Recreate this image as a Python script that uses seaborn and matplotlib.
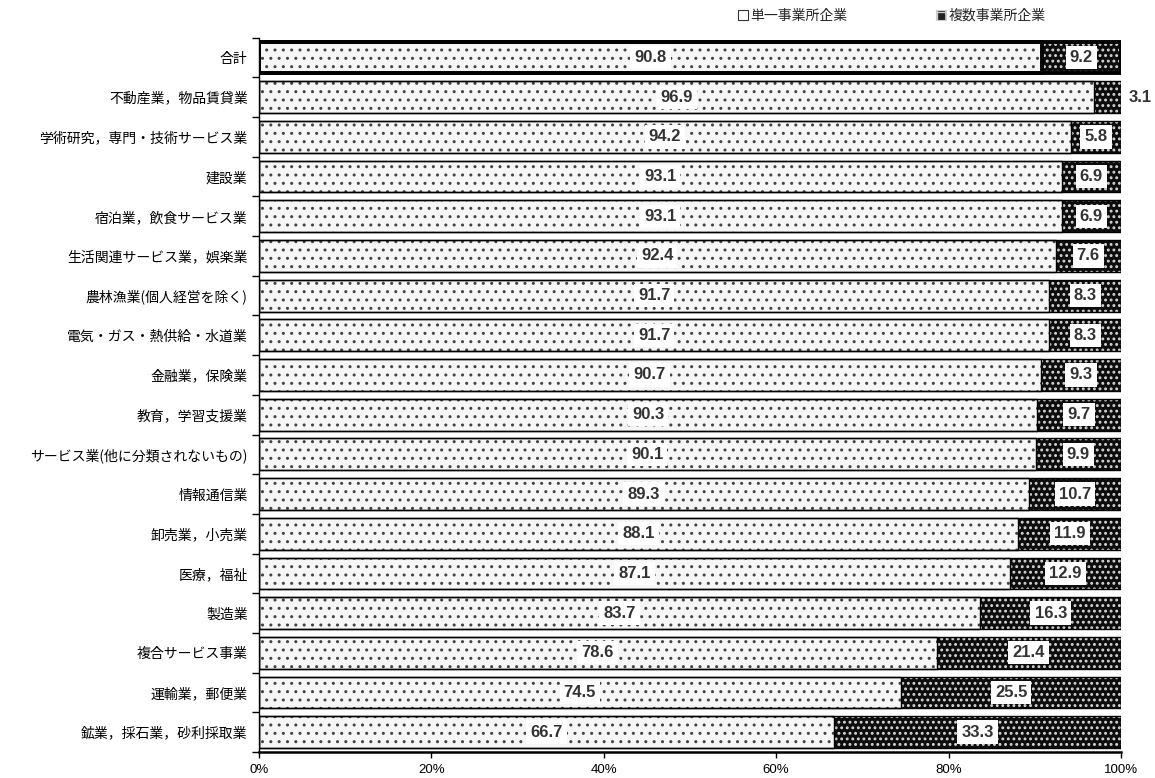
import matplotlib
matplotlib.use("Agg")
import matplotlib.pyplot as plt
import matplotlib.patches as mpatches
from matplotlib.ticker import FixedLocator, FuncFormatter
import seaborn as sns
import pandas as pd

sns.set_theme(style="white")
plt.rcParams["font.family"] = ["Noto Sans CJK JP", "DejaVu Sans"]

categories = [
    "合計",
    "不動産業，物品賃貸業",
    "学術研究，専門・技術サービス業",
    "建設業",
    "宿泊業，飲食サービス業",
    "生活関連サービス業，娯楽業",
    "農林漁業(個人経営を除く)",
    "電気・ガス・熱供給・水道業",
    "金融業，保険業",
    "教育，学習支援業",
    "サービス業(他に分類されないもの)",
    "情報通信業",
    "卸売業，小売業",
    "医療，福祉",
    "製造業",
    "複合サービス事業",
    "運輸業，郵便業",
    "鉱業，採石業，砂利採取業",
]
single = [90.8, 96.9, 94.2, 93.1, 93.1, 92.4, 91.7, 91.7, 90.7,
          90.3, 90.1, 89.3, 88.1, 87.1, 83.7, 78.6, 74.5, 66.7]
multi = [9.2, 3.1, 5.8, 6.9, 6.9, 7.6, 8.3, 8.3, 9.3,
         9.7, 9.9, 10.7, 11.9, 12.9, 16.3, 21.4, 25.5, 33.3]
series_names = ["単一事業所企業", "複数事業所企業"]
x_ticks = [0, 20, 40, 60, 80, 100]

df = pd.DataFrame({"category": categories, "single": single, "multi": multi})
df["total"] = df["single"] + df["multi"]

fig = plt.figure(figsize=(11.55, 7.78), dpi=100)
ax = fig.add_axes([0.224, 0.0335, 0.7466, 0.918])

bar_h = 0.8
single_face = "#f6f6f6"
single_dots = "#444444"
single_hatch = ".."
multi_face = "#0d0d0d"
multi_dots = "#d6d6d6"
multi_hatch = "..."

# stacked bars: full-length bar for the multi-site share, single-site share on top
with plt.rc_context({"hatch.linewidth": 1.3}):
    sns.barplot(data=df, y="category", x="total", orient="h", ax=ax,
                color=multi_face, width=bar_h, saturation=1, linewidth=0)
n_multi = len(ax.patches)
with plt.rc_context({"hatch.linewidth": 1.0}):
    sns.barplot(data=df, y="category", x="single", orient="h", ax=ax,
                color=single_face, width=bar_h, saturation=1, linewidth=0)
multi_bars = ax.patches[:n_multi]
single_bars = ax.patches[n_multi:]

for p in multi_bars:
    p.set_facecolor(multi_face)
    p.set_hatch(multi_hatch)
    p.set_edgecolor(multi_dots)
    p.set_linewidth(0)
for p in single_bars:
    p.set_facecolor(single_face)
    p.set_hatch(single_hatch)
    p.set_edgecolor(single_dots)
    p.set_linewidth(0)

# black outlines drawn over the hatched segments
for i, (p, q) in enumerate(zip(single_bars, multi_bars)):
    lw = 2.8 if i == 0 else 1.0
    for r in (q, p):
        ax.add_patch(mpatches.Rectangle((r.get_x(), r.get_y()), r.get_width(), r.get_height(),
                                        fill=False, edgecolor="black", linewidth=lw, zorder=3))

num_font = ["Liberation Sans", "DejaVu Sans"]
box = dict(boxstyle="square,pad=0.25", facecolor="white", edgecolor="none")
for i, (s, m) in enumerate(zip(single, multi)):
    ax.text(s / 2, i, f"{s:.1f}", ha="center", va="center", fontsize=12,
            fontweight="bold", color="#333333", bbox=box, zorder=4, family=num_font)
    if m < 5:
        ax.text(s + m + 2.2, i, f"{m:.1f}", ha="center", va="center", fontsize=12,
                fontweight="bold", color="#333333", zorder=4, family=num_font)
    else:
        ax.text(s + m / 2, i, f"{m:.1f}", ha="center", va="center", fontsize=12,
                fontweight="bold", color="#333333", bbox=box, zorder=4, family=num_font)

ax.set_xlim(0, 100)
ax.set_ylim(len(categories) - 0.5, -0.5)
ax.set_xlabel("")
ax.set_ylabel("")
ax.xaxis.set_major_locator(FixedLocator(x_ticks))
ax.xaxis.set_major_formatter(FuncFormatter(lambda v, _: f"{v:.0f}%"))
ax.tick_params(axis="x", which="major", direction="out", length=4, width=1,
               colors="black", labelsize=9.5, pad=5, bottom=True)
for lbl in ax.get_xticklabels():
    lbl.set_family(num_font)
ax.tick_params(axis="y", which="major", length=0, labelsize=10, pad=8, labelcolor="black")
ax.yaxis.set_minor_locator(FixedLocator([i - 0.5 for i in range(len(categories) + 1)]))
ax.tick_params(axis="y", which="minor", direction="out", length=5, width=1,
               colors="black", left=True)

for side in ("top", "right"):
    ax.spines[side].set_visible(False)
ax.spines["left"].set_color("black")
ax.spines["left"].set_linewidth(1.0)
ax.spines["bottom"].set_color("black")
ax.spines["bottom"].set_linewidth(1.8)
ax.grid(False)

handles = [
    mpatches.Patch(facecolor="white", edgecolor="#333333", linewidth=0.8),
    mpatches.Patch(facecolor="#222222", edgecolor="#cccccc", linewidth=0.8, hatch="++"),
]
fig.legend(handles, series_names, loc="upper left", bbox_to_anchor=(0.628, 1.005),
           ncol=2, frameon=False, fontsize=10, handlelength=0.7, handleheight=0.7,
           handletextpad=0.2, columnspacing=6.4)

fig.savefig("out.png", dpi=100)
